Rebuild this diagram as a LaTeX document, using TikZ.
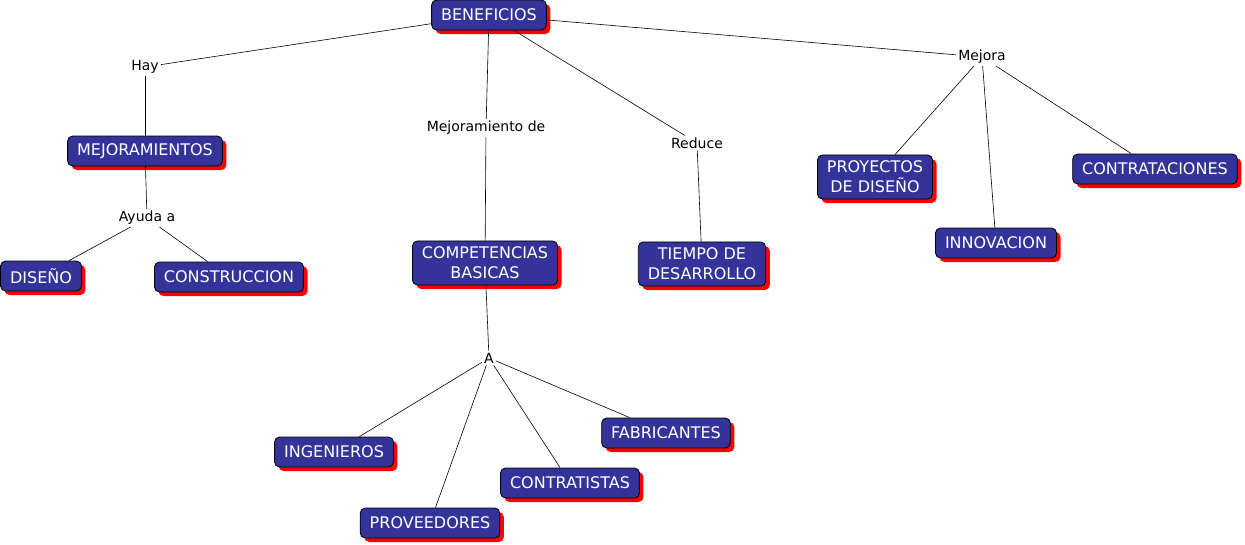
\documentclass[tikz,border=0pt]{standalone}
\usepackage{fontspec}
\setmainfont{DejaVu Sans}
\usetikzlibrary{shadows}
\definecolor{conceptblue}{HTML}{333399}
\definecolor{shadowred}{HTML}{FF0000}

\tikzset{
  concepto/.style={draw=black, line width=0.8pt, fill=conceptblue, text=white,
    rounded corners=5pt, align=center, font=\fontsize{16}{20}\selectfont,
    inner xsep=9.5pt, inner ysep=6pt, minimum height=30pt,
    drop shadow={shadow xshift=4pt, shadow yshift=-4pt, fill=shadowred, opacity=1}},
  enlace/.style={fill=white, inner sep=2pt, font=\fontsize{14}{16}\selectfont},
  conector/.style={draw=black, line width=0.6pt},
}

\begin{document}
\begin{tikzpicture}[x=1pt,y=-1pt]
      \useasboundingbox[fill=white] (0,0) rectangle (1245,544);

      % conceptos
      \node[concepto] (beneficios) at (489,15) {BENEFICIOS};
      \node[concepto] (mejoramientos) at (145,151) {MEJORAMIENTOS};
      \node[concepto] (diseno) at (41,276) {DISEÑO};
      \node[concepto] (construccion) at (229,277) {CONSTRUCCION};
      \node[concepto] (competencias) at (485,263) {COMPETENCIAS\\BASICAS};
      \node[concepto] (ingenieros) at (334,452) {INGENIEROS};
      \node[concepto] (proveedores) at (430,523) {PROVEEDORES};
      \node[concepto] (contratistas) at (570,483) {CONTRATISTAS};
      \node[concepto] (fabricantes) at (666,433) {FABRICANTES};
      \node[concepto] (tiempo) at (702,264) {TIEMPO DE\\DESARROLLO};
      \node[concepto] (proyectos) at (875,177) {PROYECTOS\\DE DISEÑO};
      \node[concepto] (innovacion) at (996,243) {INNOVACION};
      \node[concepto] (contrataciones) at (1155,169) {CONTRATACIONES};

      % frases de enlace
      \node[enlace] (hay) at (145,67) {Hay};
      \node[enlace] (ayuda) at (147,218) {Ayuda a};
      \node[enlace] (mejoramiento) at (486,128) {Mejoramiento de};
      \node[enlace] (a) at (489,358) {A};
      \node[enlace] (reduce) at (697,143) {Reduce};
      \node[enlace] (mejora) at (982,57) {Mejora};

      % conectores
      \foreach \s/\t in {beneficios/hay, hay/mejoramientos, mejoramientos/ayuda,
          ayuda/diseno, ayuda/construccion,
          beneficios/mejoramiento, mejoramiento/competencias, competencias/a,
          a/ingenieros, a/proveedores, a/contratistas, a/fabricantes,
          beneficios/reduce, reduce/tiempo,
          beneficios/mejora, mejora/proyectos, mejora/innovacion, mejora/contrataciones}
        \draw[conector] (\s) -- (\t);
    \end{tikzpicture}
\end{document}
